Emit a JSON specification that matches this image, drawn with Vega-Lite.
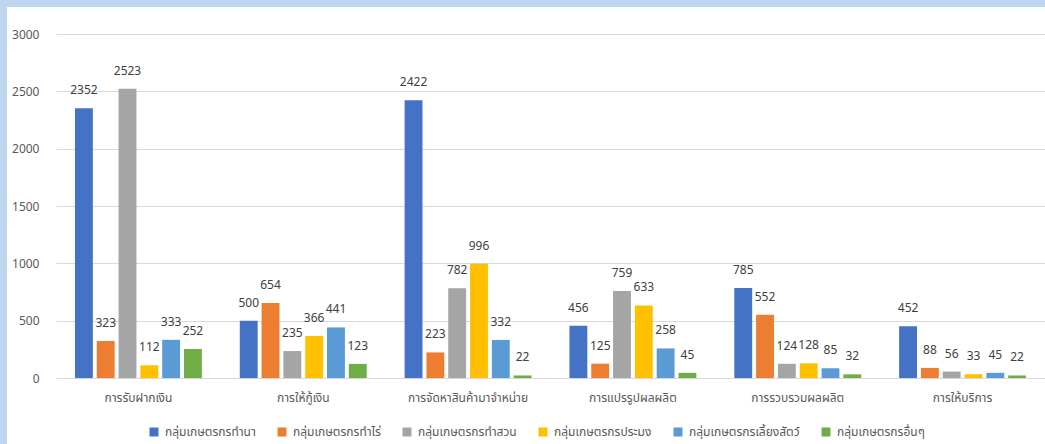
{
  "$schema": "https://vega.github.io/schema/vega-lite/v6.json",
  "padding": 0,
  "background": "white",
  "spacing": 0,
  "config": {
    "view": {"stroke": null},
    "font": "Tahoma, 'Leelawadee UI', 'Noto Sans Thai', 'Noto Sans', 'Liberation Sans', sans-serif",
    "concat": {"spacing": 0}
  },
  "resolve": {"legend": {"color": "independent"}, "scale": {"color": "independent"}},
  "vconcat": [
    {
      "width": 1045,
      "height": 7,
      "data": {"values": [{}]},
      "mark": {"type": "rect", "fill": "#BDD7EE"},
      "encoding": {}
    },
    {
      "spacing": 0,
      "resolve": {"legend": {"color": "independent"}, "scale": {"color": "independent"}},
      "hconcat": [
        {
          "width": 7,
          "height": 437,
          "data": {"values": [{}]},
          "mark": {"type": "rect", "fill": "#BDD7EE"},
          "encoding": {}
        },
        {
          "width": 989,
          "height": 371,
          "data": {
            "values": [
              {"cat": "การรับฝากเงิน", "series": "กลุ่มเกษตรกรทำนา", "value": 2352},
              {"cat": "การรับฝากเงิน", "series": "กลุ่มเกษตรกรทำไร่", "value": 323},
              {"cat": "การรับฝากเงิน", "series": "กลุ่มเกษตรกรทำสวน", "value": 2523},
              {"cat": "การรับฝากเงิน", "series": "กลุ่มเกษตรกรประมง", "value": 112},
              {"cat": "การรับฝากเงิน", "series": "กลุ่มเกษตรกรเลี้ยงสัตว์", "value": 333},
              {"cat": "การรับฝากเงิน", "series": "กลุ่มเกษตรกรอื่นๆ", "value": 252},
              {"cat": "การให้กู้เงิน", "series": "กลุ่มเกษตรกรทำนา", "value": 500},
              {"cat": "การให้กู้เงิน", "series": "กลุ่มเกษตรกรทำไร่", "value": 654},
              {"cat": "การให้กู้เงิน", "series": "กลุ่มเกษตรกรทำสวน", "value": 235},
              {"cat": "การให้กู้เงิน", "series": "กลุ่มเกษตรกรประมง", "value": 366},
              {"cat": "การให้กู้เงิน", "series": "กลุ่มเกษตรกรเลี้ยงสัตว์", "value": 441},
              {"cat": "การให้กู้เงิน", "series": "กลุ่มเกษตรกรอื่นๆ", "value": 123},
              {"cat": "การจัดหาสินค้ามาจำหน่าย", "series": "กลุ่มเกษตรกรทำนา", "value": 2422},
              {"cat": "การจัดหาสินค้ามาจำหน่าย", "series": "กลุ่มเกษตรกรทำไร่", "value": 223},
              {"cat": "การจัดหาสินค้ามาจำหน่าย", "series": "กลุ่มเกษตรกรทำสวน", "value": 782},
              {"cat": "การจัดหาสินค้ามาจำหน่าย", "series": "กลุ่มเกษตรกรประมง", "value": 996},
              {"cat": "การจัดหาสินค้ามาจำหน่าย", "series": "กลุ่มเกษตรกรเลี้ยงสัตว์", "value": 332},
              {"cat": "การจัดหาสินค้ามาจำหน่าย", "series": "กลุ่มเกษตรกรอื่นๆ", "value": 22},
              {"cat": "การแปรรูปผลผลิต", "series": "กลุ่มเกษตรกรทำนา", "value": 456},
              {"cat": "การแปรรูปผลผลิต", "series": "กลุ่มเกษตรกรทำไร่", "value": 125},
              {"cat": "การแปรรูปผลผลิต", "series": "กลุ่มเกษตรกรทำสวน", "value": 759},
              {"cat": "การแปรรูปผลผลิต", "series": "กลุ่มเกษตรกรประมง", "value": 633},
              {"cat": "การแปรรูปผลผลิต", "series": "กลุ่มเกษตรกรเลี้ยงสัตว์", "value": 258},
              {"cat": "การแปรรูปผลผลิต", "series": "กลุ่มเกษตรกรอื่นๆ", "value": 45},
              {"cat": "การรวบรวมผลผลิต", "series": "กลุ่มเกษตรกรทำนา", "value": 785},
              {"cat": "การรวบรวมผลผลิต", "series": "กลุ่มเกษตรกรทำไร่", "value": 552},
              {"cat": "การรวบรวมผลผลิต", "series": "กลุ่มเกษตรกรทำสวน", "value": 124},
              {"cat": "การรวบรวมผลผลิต", "series": "กลุ่มเกษตรกรประมง", "value": 128},
              {"cat": "การรวบรวมผลผลิต", "series": "กลุ่มเกษตรกรเลี้ยงสัตว์", "value": 85},
              {"cat": "การรวบรวมผลผลิต", "series": "กลุ่มเกษตรกรอื่นๆ", "value": 32},
              {"cat": "การให้บริการ", "series": "กลุ่มเกษตรกรทำนา", "value": 452},
              {"cat": "การให้บริการ", "series": "กลุ่มเกษตรกรทำไร่", "value": 88},
              {"cat": "การให้บริการ", "series": "กลุ่มเกษตรกรทำสวน", "value": 56},
              {"cat": "การให้บริการ", "series": "กลุ่มเกษตรกรประมง", "value": 33},
              {"cat": "การให้บริการ", "series": "กลุ่มเกษตรกรเลี้ยงสัตว์", "value": 45},
              {"cat": "การให้บริการ", "series": "กลุ่มเกษตรกรอื่นๆ", "value": 22}
            ]
          },
          "encoding": {
            "x": {
              "field": "cat",
              "type": "nominal",
              "sort": ["การรับฝากเงิน", "การให้กู้เงิน", "การจัดหาสินค้ามาจำหน่าย", "การแปรรูปผลผลิต", "การรวบรวมผลผลิต", "การให้บริการ"],
              "scale": {"paddingInner": 0.23, "paddingOuter": 0.115},
              "axis": {
                "title": null,
                "labelAngle": 0,
                "ticks": false,
                "grid": false,
                "domainColor": "#D9D9D9",
                "labelPadding": 14,
                "labelFontSize": 12,
                "labelColor": "#595959"
              }
            },
            "xOffset": {
              "field": "series",
              "type": "nominal",
              "sort": ["กลุ่มเกษตรกรทำนา", "กลุ่มเกษตรกรทำไร่", "กลุ่มเกษตรกรทำสวน", "กลุ่มเกษตรกรประมง", "กลุ่มเกษตรกรเลี้ยงสัตว์", "กลุ่มเกษตรกรอื่นๆ"],
              "scale": {"paddingInner": 0.18, "paddingOuter": 0}
            },
            "y": {
              "field": "value",
              "type": "quantitative",
              "scale": {"domain": [0, 3235.5], "nice": false, "zero": true},
              "axis": {
                "title": null,
                "format": "d",
                "values": [0, 500, 1000, 1500, 2000, 2500, 3000],
                "grid": true,
                "gridColor": "#D9D9D9",
                "domain": false,
                "ticks": false,
                "labelPadding": 17,
                "minExtent": 49,
                "maxExtent": 49,
                "labelFontSize": 12,
                "labelColor": "#595959"
              }
            }
          },
          "layer": [
            {
              "mark": {"type": "bar"},
              "encoding": {
                "color": {
                  "field": "series",
                  "type": "nominal",
                  "scale": {
                    "domain": ["กลุ่มเกษตรกรทำนา", "กลุ่มเกษตรกรทำไร่", "กลุ่มเกษตรกรทำสวน", "กลุ่มเกษตรกรประมง", "กลุ่มเกษตรกรเลี้ยงสัตว์", "กลุ่มเกษตรกรอื่นๆ"],
                    "range": ["#4472C4", "#ED7D31", "#A5A5A5", "#FFC000", "#5B9BD5", "#70AD47"]
                  },
                  "legend": {
                    "title": null,
                    "orient": "none",
                    "legendX": 92,
                    "legendY": 419,
                    "direction": "horizontal",
                    "symbolType": "square",
                    "symbolSize": 81,
                    "symbolStrokeWidth": 0,
                    "labelFontSize": 12,
                    "labelColor": "#595959",
                    "labelOffset": 5,
                    "columnPadding": 20
                  }
                }
              }
            },
            {
              "mark": {"type": "text", "dy": -18, "baseline": "middle", "fontSize": 12, "color": "#404040"},
              "encoding": {"text": {"field": "value", "type": "quantitative", "format": "d"}}
            }
          ]
        }
      ]
    }
  ]
}
